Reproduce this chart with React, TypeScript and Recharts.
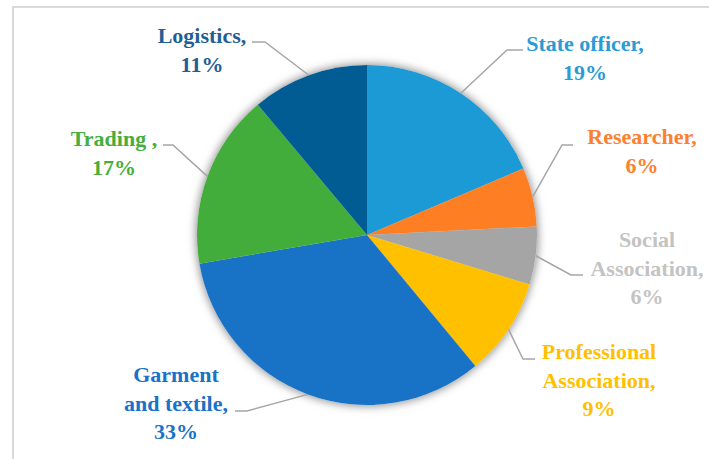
import { PieChart, Pie, Cell } from 'recharts';

// slice values in percent, clockwise from 12 o'clock
const categories = [
    'State officer',
    'Researcher',
    'Social Association',
    'Professional Association',
    'Garment and textile',
    'Trading ',
    'Logistics',
];
const shares = [18.6, 5.6, 5.5, 9.3, 33.3, 16.6, 11.1];

// how each category name is broken over lines in its label
const labelLines = [
    ['State officer,'],
    ['Researcher,'],
    ['Social', 'Association,'],
    ['Professional', 'Association,'],
    ['Garment', 'and textile,'],
    ['Trading ,'],
    ['Logistics,'],
];

const sliceColors = ['#1c9ad6', '#fe7f23', '#a5a5a5', '#ffc000', '#1872c6', '#43ad3b', '#015c94'];
const textColors = ['#2a9bd5', '#fd8030', '#c3c3c3', '#ffc000', '#1a72c8', '#45ae3c', '#1f5f95'];

// label placement relative to the pie centre: text centre / first baseline, leader y, leader x (text end, elbow)
const labelLayout = [
    { tx: 218, ty: -184, ly: -185, lx0: 156, lx1: 140 },
    { tx: 275, ty: -91, ly: -90, lx0: 206, lx1: 195 },
    { tx: 280, ty: 12, ly: 40, lx0: 216, lx1: 204 },
    { tx: 232, ty: 124, ly: 124, lx0: 168, lx1: 156 },
    { tx: -191, ty: 147, ly: 176, lx0: -132, lx1: -120 },
    { tx: -253, ty: -89, ly: -90, lx0: -204, lx1: -194 },
    { tx: -165, ty: -192, ly: -193, lx0: -115, lx1: -102 },
];

const data = categories.map((name, i) => ({ name, value: shares[i] }));

const RAD = Math.PI / 180;
const LINE_H = 28.5;
const labelFont = { fontFamily: '"Liberation Serif", serif', fontWeight: 700, fontSize: 22 };

const renderLabel = (props: any) => {
    const { cx, cy, midAngle, outerRadius, index, value } = props;
    const lay = labelLayout[index];
    const ax = cx + outerRadius * Math.cos(-midAngle * RAD);
    const ay = cy + outerRadius * Math.sin(-midAngle * RAD);
    const lines = [...labelLines[index], `${Math.round(value)}%`];
    return (
        <g key={`lbl-${index}`}>
            <polyline
                points={`${cx + lay.lx0},${cy + lay.ly} ${cx + lay.lx1},${cy + lay.ly} ${ax},${ay}`}
                fill="none"
                stroke="#a6a6a6"
                strokeWidth={1.5}
            />
            <text
                x={cx + lay.tx}
                y={cy + lay.ty}
                textAnchor="middle"
                fill={textColors[index]}
                style={labelFont}
            >
                {lines.map((t, j) => (
                    <tspan key={j} x={cx + lay.tx} dy={j === 0 ? 0 : LINE_H} style={labelFont}>
                        {t}
                    </tspan>
                ))}
            </text>
        </g>
    );
};

export default function App() {
    return (
        <div style={{ position: 'fixed', left: 0, top: 0, width: 709, height: 459, overflow: 'hidden', background: '#fff' }}>
            <style>{`.pie-shadow { filter: drop-shadow(0 0 5px rgba(0,0,0,0.28)); }`}</style>
            <div
                style={{
                    position: 'absolute',
                    left: 12,
                    top: 6,
                    width: 900,
                    height: 700,
                    border: '2px solid #d9d9d9',
                }}
            />
            <div style={{ position: 'absolute', left: 0, top: 0 }}>
                <PieChart width={709} height={459} margin={{ top: 0, right: 0, bottom: 0, left: 0 }}>
                    {/* white disc underneath, only to cast the soft shadow round the pie */}
                    <Pie
                        className="pie-shadow"
                        data={data}
                        dataKey="value"
                        cx={367}
                        cy={235}
                        outerRadius={170}
                        startAngle={90}
                        endAngle={-270}
                        stroke="none"
                        fill="#ffffff"
                        label={false}
                        labelLine={false}
                        isAnimationActive={false}
                    />
                    <Pie
                        data={data}
                        dataKey="value"
                        nameKey="name"
                        cx={367}
                        cy={235}
                        outerRadius={170}
                        startAngle={90}
                        endAngle={-270}
                        stroke="none"
                        label={renderLabel}
                        labelLine={false}
                        isAnimationActive={false}
                    >
                        {data.map((d, i) => (
                            <Cell key={d.name} fill={sliceColors[i]} />
                        ))}
                    </Pie>
                </PieChart>
            </div>
        </div>
    );
}
